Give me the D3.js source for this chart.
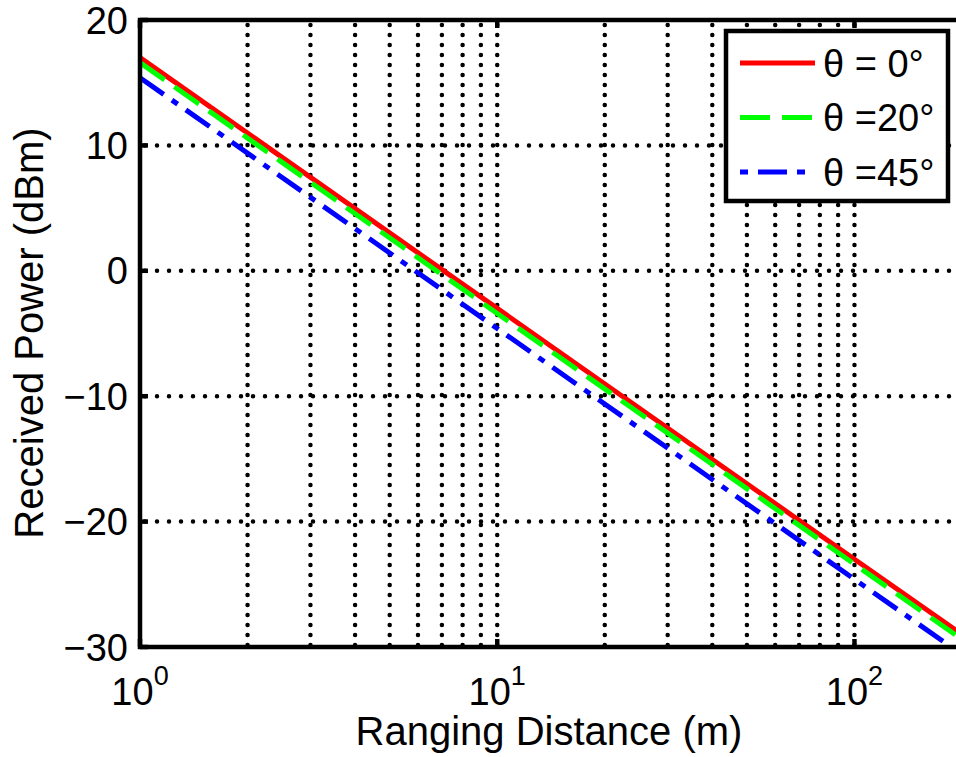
<!DOCTYPE html>
<html>
<head>
<meta charset="utf-8">
<script src="https://cdn.jsdelivr.net/npm/d3@7"></script>
<style>
  body { margin: 0; background: #fff; }
  svg { font-family: "Liberation Sans", Arial, sans-serif; }
</style>
</head>
<body>
<svg id="chart" width="956" height="757"></svg>
<script>
// data
const distances = [1, 10, 100, 200];
const power0 = [17.0, -3.0, -23.0, -29.0];
const power20 = [16.6, -3.4, -23.4, -29.4];
const power45 = [15.4, -4.6, -24.6, -30.6];
const seriesNames = ['θ = 0°', 'θ =20°', 'θ =45°'];
const yTicks = [-30, -20, -10, 0, 10, 20];
const xMajor = [1, 10, 100];

const svg = d3.select('#chart');

// plot box (right edge sits just outside the window, like the reference)
const boxL = 140, boxT = 20, boxR = 962, boxB = 647;

const x = d3.scaleLog().domain([1, 200]).range([boxL, boxR]);
const y = d3.scaleLinear().domain([-30, 20]).range([boxB, boxT]);

const series = [
  { name: seriesNames[0], values: power0, color: '#ff0000', dash: null },
  { name: seriesNames[1], values: power20, color: '#00ff00', dash: '30,12' },
  { name: seriesNames[2], values: power45, color: '#0000ff', dash: '29,10,7,10' }
];

svg.append('defs').append('clipPath').attr('id', 'clip')
  .append('rect')
  .attr('x', boxL).attr('y', boxT)
  .attr('width', boxR - boxL).attr('height', boxB - boxT);

// grid
const grid = svg.append('g').attr('class', 'grid');
const minor = [];
for (let dec = 1; dec <= 100; dec *= 10) {
  for (let k = 1; k <= 9; k++) {
    const v = dec * k;
    if (v > 1 && v <= 200) minor.push(v);
  }
}
grid.selectAll('.vg').data(minor)
  .join('line')
  .attr('class', 'vg')
  .attr('x1', d => x(d)).attr('x2', d => x(d))
  .attr('y1', boxT + 5).attr('y2', boxB)
  .style('stroke', '#000')
  .style('stroke-width', 4.5)
  .style('stroke-linecap', 'round')
  .style('stroke-dasharray', '0,10');

grid.selectAll('.hg').data(yTicks.filter(d => d > -30 && d < 20))
  .join('line')
  .attr('class', 'hg')
  .attr('x1', boxL + 5).attr('x2', boxR)
  .attr('y1', d => y(d)).attr('y2', d => y(d))
  .style('stroke', '#000')
  .style('stroke-width', 4.5)
  .style('stroke-linecap', 'round')
  .style('stroke-dasharray', '0,12');

// data lines
const line = d3.line()
  .x((d, i) => x(distances[i]))
  .y(d => y(d));

svg.append('g').attr('clip-path', 'url(#clip)')
  .selectAll('path').data(series)
  .join('path')
  .attr('d', d => line(d.values))
  .style('fill', 'none')
  .style('stroke', d => d.color)
  .style('stroke-width', 5)
  .style('stroke-dasharray', d => d.dash);

// frame
svg.append('rect')
  .attr('x', boxL).attr('y', boxT)
  .attr('width', boxR - boxL).attr('height', boxB - boxT)
  .style('fill', 'none')
  .style('stroke', '#000')
  .style('stroke-width', 4.5);

// ticks (inward)
const tickLen = 8;
svg.selectAll('.ytick').data(yTicks)
  .join('line')
  .attr('x1', boxL).attr('x2', boxL + tickLen)
  .attr('y1', d => y(d)).attr('y2', d => y(d))
  .style('stroke', '#000').style('stroke-width', 4.5);

svg.selectAll('.xtickb').data(xMajor)
  .join('line')
  .attr('x1', d => x(d)).attr('x2', d => x(d))
  .attr('y1', boxB).attr('y2', boxB - tickLen)
  .style('stroke', '#000').style('stroke-width', 4.5);

svg.selectAll('.xtickt').data(xMajor)
  .join('line')
  .attr('x1', d => x(d)).attr('x2', d => x(d))
  .attr('y1', boxT).attr('y2', boxT + tickLen)
  .style('stroke', '#000').style('stroke-width', 4.5);

// tick labels
svg.selectAll('.ylab').data(yTicks)
  .join('text')
  .attr('x', boxL - 12)
  .attr('y', d => y(d))
  .attr('dy', '0.36em')
  .attr('text-anchor', 'end')
  .style('font-size', '38px')
  .text(d => d < 0 ? '\u2212' + Math.abs(d) : d);

const xl = svg.selectAll('.xlab').data(xMajor)
  .join('text')
  .attr('x', d => x(d))
  .attr('y', 705)
  .attr('text-anchor', 'middle')
  .style('font-size', '38px');
xl.append('tspan').text('10');
xl.append('tspan')
  .attr('dy', -20)
  .style('font-size', '27px')
  .text(d => Math.round(Math.log10(d)));

// axis titles
svg.append('text')
  .attr('x', 549).attr('y', 745)
  .attr('text-anchor', 'middle')
  .style('font-size', '40px')
  .text('Ranging Distance (m)');

svg.append('text')
  .attr('transform', 'translate(43, 333) rotate(-90)')
  .attr('text-anchor', 'middle')
  .style('font-size', '40px')
  .text('Received Power (dBm)');

// legend
const lg = svg.append('g').attr('transform', 'translate(726, 31)');
lg.append('rect')
  .attr('width', 222).attr('height', 170)
  .style('fill', '#fff')
  .style('stroke', '#000')
  .style('stroke-width', 4.5);

const rows = lg.selectAll('.row').data(series)
  .join('g')
  .attr('transform', (d, i) => `translate(0, ${32 + i * 54.5})`);

rows.append('line')
  .attr('x1', 14).attr('x2', 89)
  .style('stroke', d => d.color)
  .style('stroke-width', 5)
  .style('stroke-dasharray', (d, i) => i === 2 ? '8,10,29,10' : d.dash);

rows.append('text')
  .attr('x', 97)
  .attr('dy', '0.36em')
  .style('font-size', '38px')
  .text(d => d.name);
</script>
</body>
</html>
